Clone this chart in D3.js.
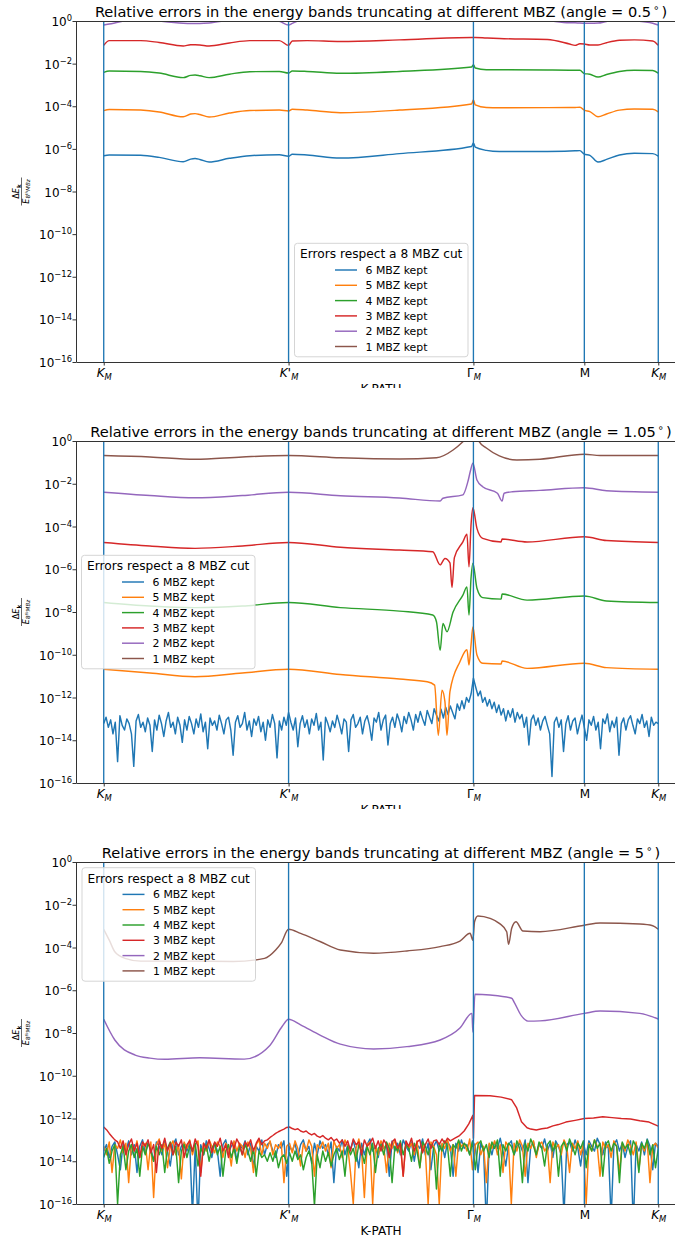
<!DOCTYPE html>
<html>
<head>
<meta charset="utf-8">
<script src="https://cdn.jsdelivr.net/npm/d3@7"></script>
<style>
  body { margin: 0; background: #fff; }
  svg { display: block; font-family: "DejaVu Sans", sans-serif; }
</style>
</head>
<body>
<div class="chart"></div>
<script>
// ---- shared axis stuff ----
const kTicks = [0, 1, 2, 2.6, 3];
const kTickLabels = [["K", "", "M"], ["K", "'", "M"], ["Γ", "", "M"], ["M", "", ""], ["K", "", "M"]];
const yTicks = [1, 1e-2, 1e-4, 1e-6, 1e-8, 1e-10, 1e-12, 1e-14, 1e-16];
const yTickExp = ["0", "−2", "−4", "−6", "−8", "−10", "−12", "−14", "−16"];
const seriesNames = ["6 MBZ kept", "5 MBZ kept", "4 MBZ kept", "3 MBZ kept", "2 MBZ kept", "1 MBZ kept"];
const colors = ["#1f77b4", "#ff7f0e", "#2ca02c", "#d62728", "#9467bd", "#8c564b"];
const angles = ["0.5", "1.05", "5"];

// ---- panel 1 (angle 0.5) : one k grid, six series ----
const p1K = [0, 0.03, 0.2, 0.3, 0.43, 0.47, 0.494, 0.52, 0.57, 0.68, 0.79, 0.95, 1.0, 1.02, 1.1, 1.28, 1.6,
  1.99, 2.0, 2.01, 2.07, 2.14, 2.4, 2.52, 2.55, 2.576, 2.6, 2.63, 2.674, 2.72, 2.79, 2.87, 2.97, 3.0];
const p1Six = [4.8e-7, 5.2e-7, 5.0e-7, 4.0e-7, 2.5e-7, 3.3e-7, 3.5e-7, 3.2e-7, 2.4e-7, 3.6e-7, 4.8e-7, 5.3e-7,
  4.5e-7, 5.6e-7, 5.2e-7, 3.7e-7, 6.0e-7, 1.3e-6, 1.9e-6, 1.2e-6, 8.5e-7, 7.5e-7, 7.6e-7, 7.9e-7, 8.1e-7,
  8.3e-7, 5.7e-7, 5.0e-7, 2.4e-7, 3.2e-7, 5.2e-7, 6.2e-7, 6.0e-7, 4.6e-7];
const p1Five = [6.2e-5, 7.1e-5, 6.6e-5, 5.4e-5, 3.2e-5, 4.3e-5, 4.5e-5, 4.1e-5, 3.1e-5, 4.8e-5, 6.3e-5, 6.6e-5,
  6.0e-5, 7.2e-5, 6.6e-5, 5.0e-5, 6.6e-5, 1.28e-4, 1.95e-4, 1.15e-4, 8.7e-5, 8.5e-5, 8.6e-5, 8.7e-5, 8.8e-5,
  8.9e-5, 6.6e-5, 5.6e-5, 3.2e-5, 4.3e-5, 6.6e-5, 7.4e-5, 7.2e-5, 5.5e-5];
const p1Four = [3.9e-3, 4.5e-3, 4.3e-3, 3.6e-3, 2.2e-3, 2.8e-3, 2.9e-3, 2.7e-3, 2.2e-3, 3.2e-3, 4.2e-3, 4.3e-3,
  3.6e-3, 4.5e-3, 4.3e-3, 3.5e-3, 4.3e-3, 6.9e-3, 8.9e-3, 6.2e-3, 5.2e-3, 5.2e-3, 5.0e-3, 4.9e-3, 4.9e-3,
  4.9e-3, 3.4e-3, 3.2e-3, 2.35e-3, 3.1e-3, 4.3e-3, 4.9e-3, 4.8e-3, 3.6e-3];
const p1Three = [0.072, 0.12, 0.12, 0.098, 0.067, 0.077, 0.077, 0.075, 0.067, 0.093, 0.12, 0.12, 0.072, 0.115,
  0.12, 0.11, 0.13, 0.17, 0.17, 0.17, 0.16, 0.15, 0.135, 0.083, 0.072, 0.086, 0.083, 0.075, 0.075, 0.096,
  0.124, 0.13, 0.115, 0.072];
const p1Two = [0.65, 0.72, 1.3, 1.0, 0.78, 0.76, 0.76, 0.76, 0.8, 1.1, 1.4, 0.98, 0.65, 0.78, 1.3, 1.6, 1.8,
  2.0, 2.0, 2.0, 1.8, 1.6, 1.05, 0.83, 0.82, 0.8, 0.79, 0.78, 0.8, 0.95, 1.1, 1.02, 0.78, 0.65];
const p1One = [2.6, 3.2, 3.4, 3.2, 2.8, 2.9, 2.9, 2.9, 2.8, 3.1, 3.4, 3.3, 2.6, 3.1, 3.4, 3.6, 3.9, 4.2, 4.4,
  4.2, 4.0, 3.8, 3.4, 3.0, 2.9, 3.0, 2.9, 2.9, 2.8, 3.1, 3.3, 3.2, 3.0, 2.6];

// ---- panel 2 (angle 1.05) ----
// 6 MBZ: numerical noise, evenly sampled along the path
const p2Six = [
  6e-14, 1.2e-13, 4e-14, 9e-14, 2e-14, 7e-14, 1e-15, 1.4e-13, 5e-14, 3e-14,
  1e-13, 6e-14, 2e-14, 6e-16, 8e-14, 1.6e-13, 4e-14, 7e-14, 2.5e-14, 1.1e-13,
  5e-14, 3e-15, 9e-14, 3e-14, 1.5e-13, 6e-14, 1.5e-14, 8e-14, 2e-13, 4e-14,
  7e-14, 2e-14, 1.2e-13, 5e-14, 8e-15, 9e-14, 3e-14, 1.3e-13, 6e-14, 2e-14,
  1e-13, 4e-14, 1.7e-13, 2.5e-14, 7e-14, 4e-15, 1.1e-13, 5e-14, 8e-14, 3e-14,
  1.5e-13, 6e-14, 2e-14, 9e-14, 1.2e-13, 3e-14, 2e-15, 7e-14, 1.4e-13, 4e-14,
  6e-14, 2e-13, 3e-14, 8e-14, 1.5e-14, 1e-13, 5e-14, 1.3e-13, 2.5e-14, 7e-14,
  1e-14, 9e-14, 4e-14, 1.6e-13, 6e-14, 1.5e-15, 8e-14, 3e-14, 1.2e-13, 5e-14,
  2e-13, 7e-14, 3e-14, 1.1e-13, 5e-15, 6e-14, 1.4e-13, 4e-14, 9e-14, 2e-14,
  1e-13, 5e-14, 1.8e-13, 3e-14, 7e-14, 1.2e-15, 1.2e-13, 6e-14, 2.5e-14, 8e-14,
  4e-14, 1.5e-13, 6e-14, 2e-14, 1e-13, 7e-14, 3e-15, 9e-14, 1.6e-13, 4e-14,
  6e-14, 1.2e-13, 2e-14, 8e-14, 1.4e-13, 5e-14, 1e-14, 1.1e-13, 7e-14, 2e-13,
  3e-14, 9e-14, 1.5e-13, 6e-15, 6e-14, 1.2e-13, 4e-14, 1.7e-13, 8e-14, 2.5e-14,
  1.3e-13, 6e-14, 2e-13, 9e-14, 3e-14, 1.6e-13, 7e-14, 2.2e-13, 1e-13, 5e-14,
  2.5e-13, 1.2e-13, 6e-14, 3e-13, 1.5e-13, 8e-14, 2.8e-13, 1.1e-13, 3.5e-13, 1.6e-13,
  4e-13, 2e-13, 1e-13, 5e-13, 2.5e-13, 7e-13, 3e-13, 1e-12, 6e-13, 1.5e-12,
  8e-12, 3e-12, 1.2e-12, 2e-12, 6e-13, 1e-12, 4e-13, 8e-13, 3e-13, 6e-13,
  2e-13, 4.5e-13, 1.5e-13, 3e-13, 8e-14, 2.5e-13, 1.2e-13, 3e-13, 7e-14, 2e-13,
  1e-13, 1.6e-13, 4e-14, 1.2e-13, 6e-15, 9e-14, 1.5e-13, 5e-14, 1.1e-13, 3e-14,
  8e-14, 1.3e-13, 5e-14, 2e-14, 2e-16, 7e-14, 1.2e-13, 4e-14, 9e-14, 3e-15,
  6e-14, 1.4e-13, 3e-14, 8e-14, 1.1e-13, 2e-14, 6e-14, 1.5e-13, 4e-14, 1e-14,
  9e-14, 5e-14, 1.3e-13, 3e-14, 7e-14, 4e-15, 1e-13, 6e-14, 1.7e-13, 2.5e-14,
  8e-14, 4e-14, 1.2e-13, 2e-15, 6e-14, 1.1e-13, 3e-14, 9e-14, 1.4e-13, 5e-14,
  2e-14, 1e-13, 6e-14, 1.6e-13, 4e-14, 8e-14, 1.5e-14, 1.2e-13, 5e-14, 7e-14,
  6e-14];
// [k, value]
const p2Five = [[0, 2.1e-11], [0.25, 1.4e-11], [0.494, 9.3e-12], [0.75, 1.4e-11], [1, 2.1e-11], [1.28, 1.2e-11],
  [1.6, 7.3e-12], [1.75, 5.5e-12], [1.79, 3.8e-12], [1.81, 1.7e-14], [1.83, 2.2e-12], [1.846, 6.3e-13],
  [1.857, 1.7e-14], [1.873, 1.9e-12], [1.927, 4.7e-11], [1.965, 1.7e-10], [1.976, 3.3e-11], [1.987, 2.8e-10],
  [1.997, 2.0e-9], [2.019, 9.8e-11], [2.05, 4.0e-11], [2.15, 3.7e-11], [2.155, 5.1e-11], [2.29, 2.3e-11],
  [2.6, 4.0e-11], [2.72, 2.5e-11], [3, 2.1e-11]];
const p2Four = [[0, 2.8e-8], [0.25, 1.9e-8], [0.494, 1.6e-8], [0.75, 1.9e-8], [1, 2.8e-8], [1.28, 1.6e-8],
  [1.6, 1.1e-8], [1.78, 7.2e-9], [1.8, 3.5e-9], [1.82, 1.6e-10], [1.835, 2.9e-9], [1.857, 1.2e-9],
  [1.89, 1.0e-8], [1.943, 6.2e-8], [1.965, 1.5e-7], [1.976, 7.2e-9], [1.987, 3.8e-7], [1.997, 1.9e-6],
  [2.019, 1.3e-7], [2.05, 4.7e-8], [2.15, 4.0e-8], [2.155, 6.9e-8], [2.29, 3.6e-8], [2.6, 5.6e-8],
  [2.72, 3.3e-8], [3, 2.8e-8]];
const p2Three = [[0, 1.8e-5], [0.25, 1.23e-5], [0.494, 9.5e-6], [0.75, 1.23e-5], [1, 1.8e-5], [1.28, 1.07e-5],
  [1.6, 7.9e-6], [1.78, 6.6e-6], [1.82, 1.6e-6], [1.846, 3.2e-6], [1.873, 2.0e-6], [1.884, 1.4e-7],
  [1.897, 3.5e-6], [1.943, 1.9e-5], [1.965, 4.3e-5], [1.976, 1.3e-6], [1.987, 1.17e-4], [1.997, 7.6e-4],
  [2.019, 8.2e-5], [2.05, 2.8e-5], [2.15, 1.9e-5], [2.155, 2.6e-5], [2.29, 1.9e-5], [2.6, 3.3e-5],
  [2.72, 2.2e-5], [3, 1.8e-5]];
const p2Two = [[0, 4.0e-3], [0.25, 2.8e-3], [0.494, 2.2e-3], [0.75, 2.8e-3], [1, 4.0e-3], [1.28, 2.75e-3],
  [1.6, 2.15e-3], [1.82, 1.55e-3], [1.835, 2.1e-3], [1.943, 3.0e-3], [1.97, 1.25e-2], [1.985, 4.4e-2],
  [1.997, 9.1e-2], [2.019, 1.5e-2], [2.05, 7.3e-3], [2.13, 3.6e-3], [2.155, 1.55e-3], [2.166, 3.6e-3],
  [2.21, 4.2e-3], [2.36, 4.9e-3], [2.6, 6.5e-3], [2.72, 4.7e-3], [3, 4.0e-3]];
const p2One = [[0, 0.21], [0.25, 0.18], [0.494, 0.14], [0.75, 0.18], [1, 0.21], [1.28, 0.165], [1.6, 0.145],
  [1.8, 0.165], [1.89, 0.38], [1.943, 0.93], [1.97, 1.6], [2.0, 3], [2.02, 1.6], [2.03, 0.95], [2.07, 0.47],
  [2.14, 0.2], [2.235, 0.13], [2.36, 0.14], [2.6, 0.24], [2.685, 0.21], [3, 0.21]];

// ---- panel 3 (angle 5) ----
const p3Six = [
  3e-14, 6e-14, 1.5e-14, 5e-14, 8e-14, 2e-14, 4e-15, 7e-14, 3e-14, 9e-14,
  2e-14, 6e-14, 3e-15, 5e-14, 1e-13, 2.5e-14, 7e-14, 4e-14, 1e-14, 8e-14,
  5e-14, 2e-14, 9e-14, 3e-14, 6e-15, 6e-14, 1.1e-13, 2e-14, 5e-14, 7e-14,
  3e-14, 8e-14, 3e-17, 5e-14, 1e-17, 6e-14, 2e-14, 9e-14, 4e-14, 1.5e-14,
  7e-14, 3e-14, 2e-15, 6e-14, 1e-13, 2.5e-14, 5e-14, 8e-14, 1e-14, 6e-14,
  4e-14, 9e-14, 2e-14, 7e-14, 5e-15, 5e-14, 3e-14, 1e-13, 2e-14, 6e-14,
  8e-14, 3e-14, 1.5e-14, 6e-14, 4e-14, 9e-14, 2e-15, 5e-14, 3e-14, 7e-14,
  1.5e-14, 6e-14, 1e-13, 3e-14, 5e-14, 8e-15, 7e-14, 2e-14, 9e-14, 4e-14,
  6e-14, 2e-14, 8e-14, 1e-15, 5e-14, 3e-14, 1e-13, 2e-14, 6e-14, 4e-14,
  9e-14, 3e-14, 5e-15, 7e-14, 2e-14, 6e-14, 1.1e-13, 3e-14, 5e-14, 1.5e-14,
  8e-14, 4e-14, 6e-14, 2e-15, 9e-14, 3e-14, 7e-14, 2e-14, 1e-13, 5e-14,
  3e-14, 8e-14, 1e-14, 6e-14, 4e-14, 1.1e-13, 2e-14, 7e-14, 4e-15, 5e-14,
  9e-14, 3e-14, 6e-14, 1.5e-14, 8e-14, 5e-14, 2e-15, 7e-14, 3e-14, 1e-13,
  4e-14, 6e-14, 2e-14, 9e-14, 5e-14, 3e-15, 7e-14, 3e-14, 1e-17, 6e-14,
  2e-14, 8e-14, 4e-14, 1.2e-13, 3e-14, 6e-15, 6e-14, 9e-14, 2e-14, 5e-14,
  7e-14, 3e-14, 1e-13, 1e-15, 5e-14, 8e-14, 2e-14, 6e-14, 4e-14, 1.1e-13,
  3e-14, 7e-14, 1.5e-14, 9e-14, 5e-14, 2e-14, 3e-17, 6e-14, 8e-14, 3e-14,
  1e-13, 4e-14, 6e-15, 7e-14, 2e-14, 9e-14, 5e-14, 3e-14, 1.2e-13, 6e-14,
  2e-14, 8e-14, 4e-14, 2e-17, 6e-14, 1e-13, 3e-14, 7e-14, 1.5e-14, 5e-14,
  9e-14, 1e-17, 6e-14, 3e-14, 8e-14, 2e-14, 1.1e-13, 5e-14, 4e-15, 7e-14,
  5e-14];
const p3Five = [
  5e-14, 2e-14, 8e-14, 3e-15, 6e-14, 4e-14, 1e-13, 2.5e-14, 7e-14, 1e-15,
  6e-14, 3e-14, 9e-14, 1.5e-14, 5e-14, 7e-14, 4e-15, 8e-14, 2e-16, 6e-14,
  1.1e-13, 3e-14, 7e-14, 5e-15, 5e-14, 9e-14, 2e-14, 6e-14, 1.5e-15, 8e-14,
  4e-14, 1e-13, 2e-14, 6e-14, 9e-14, 3e-15, 7e-14, 3e-14, 1e-13, 5e-14,
  2.5e-14, 8e-14, 5e-14, 1.5e-14, 7e-14, 4e-14, 6e-15, 9e-14, 3e-14, 7e-14,
  5e-14, 1.5e-14, 8e-14, 4e-14, 3e-15, 6e-14, 1e-13, 2e-14, 7e-14, 4e-14,
  9e-14, 2e-14, 6e-14, 4e-14, 8e-14, 1e-15, 5e-14, 7e-14, 2.5e-14, 9e-14,
  4e-14, 6e-15, 7e-14, 3e-14, 1e-13, 5e-14, 2e-15, 6e-14, 4e-14, 8e-14,
  3e-14, 7e-14, 5e-15, 9e-14, 4e-14, 6e-14, 1.5e-14, 1e-13, 5e-14, 3e-15,
  1e-16, 4e-14, 1.1e-13, 3e-14, 2e-16, 6e-14, 8e-14, 1e-16, 5e-14, 2e-14,
  9e-14, 5e-14, 3e-15, 7e-14, 4e-14, 1e-13, 2.5e-14, 6e-14, 2e-15, 8e-14,
  4e-14, 7e-14, 2e-14, 9e-14, 5e-15, 6e-14, 3e-14, 1e-16, 8e-14, 5e-14,
  2e-14, 1e-16, 7e-14, 4e-14, 1e-13, 3e-14, 6e-14, 2e-15, 9e-14, 5e-14,
  7e-14, 3e-14, 1.1e-13, 4e-15, 6e-14, 8e-14, 2e-14, 5e-14, 1e-15, 7e-14,
  4e-14, 9e-14, 2e-14, 6e-14, 3e-15, 8e-14, 5e-14, 1e-16, 7e-14, 3e-14,
  1e-13, 5e-14, 2e-15, 7e-14, 4e-14, 9e-14, 1.5e-14, 6e-14, 8e-14, 3e-14,
  5e-14, 1e-15, 8e-14, 4e-14, 6e-14, 2e-14, 1e-13, 5e-14, 3e-15, 7e-14,
  4e-14, 9e-14, 2e-14, 6e-14, 1e-16, 7e-14, 3e-14, 1e-13, 5e-14, 2e-15,
  8e-14, 4e-14, 6e-14, 1.5e-14, 9e-14, 5e-14, 3e-15, 7e-14, 3e-14, 1e-13,
  5e-14, 2e-14, 8e-14, 4e-15, 6e-14, 3e-14, 9e-14, 1e-15, 5e-14, 7e-14,
  4e-14];
const p3Four = [
  1.5e-14, 4e-14, 8e-15, 3e-14, 6e-14, 1e-16, 2e-14, 5e-14, 4e-15, 3e-14,
  6e-14, 1.5e-14, 4e-14, 2e-15, 5e-14, 2e-14, 7e-14, 3e-14, 1e-14, 5e-14,
  2e-14, 6e-14, 3e-15, 4e-14, 8e-14, 2e-14, 5e-14, 1e-15, 3e-14, 6e-14,
  1.5e-14, 5e-14, 3e-14, 7e-14, 6e-15, 4e-14, 2e-14, 6e-14, 1e-14, 4e-14,
  7e-14, 2e-14, 5e-14, 2e-15, 3e-14, 6e-14, 1.5e-14, 4e-14, 8e-15, 5e-14,
  2e-14, 6e-14, 3e-14, 1e-14, 4e-14, 2e-15, 3e-14, 1.5e-14, 2e-14, 1e-14,
  2.5e-14, 1e-14, 3e-14, 5e-15, 1.5e-14, 2e-14, 8e-15, 2.5e-14, 1e-14, 3e-14,
  1.2e-14, 2e-14, 4e-15, 1.5e-14, 3e-14, 1e-14, 8e-17, 2e-14, 5e-15, 3e-14,
  1e-14, 2.5e-14, 6e-15, 2e-14, 4e-14, 1.2e-14, 3e-14, 2e-15, 5e-14, 2e-14,
  4e-14, 1e-14, 6e-14, 3e-14, 8e-15, 5e-14, 2e-14, 7e-14, 3e-15, 4e-14,
  6e-14, 2e-14, 8e-14, 4e-14, 1e-15, 5e-14, 3e-14, 9e-14, 2e-14, 6e-14,
  4e-14, 1e-14, 7e-14, 3e-14, 5e-15, 8e-14, 5e-14, 2e-14, 6e-14, 4e-14,
  5e-16, 7e-14, 3e-14, 9e-14, 5e-14, 2e-15, 6e-14, 4e-14, 1e-13, 3e-14,
  7e-14, 5e-14, 2e-14, 8e-14, 4e-15, 6e-14, 9e-14, 3e-14, 6e-14, 1.5e-14,
  8e-14, 4e-14, 1e-13, 2e-15, 6e-14, 3e-14, 7e-14, 5e-14, 2e-14, 9e-14,
  4e-14, 1e-15, 7e-14, 3e-14, 1.1e-13, 5e-14, 2e-14, 8e-14, 4e-14, 6e-15,
  6e-14, 9e-14, 3e-14, 7e-14, 2e-15, 5e-14, 8e-14, 3e-14, 1.1e-13, 5e-14,
  2e-14, 7e-14, 4e-14, 9e-14, 5e-15, 6e-14, 3e-14, 1e-13, 4e-14, 7e-14,
  2e-15, 6e-14, 9e-14, 3e-14, 7e-14, 5e-14, 1e-15, 8e-14, 4e-14, 6e-14,
  2e-14, 9e-14, 5e-14, 3e-15, 7e-14, 4e-14, 1e-13, 2e-14, 6e-14, 5e-15,
  4e-14];
// 3 MBZ: noisy on the same grid up to just before Gamma, then the smoother tail
const p3ThreeNoise = [
  4e-13, 3e-13, 2e-13, 1.4e-13, 1e-13, 8e-14, 4e-14, 9e-14, 2e-14, 6e-14,
  1.1e-13, 3e-14, 7e-14, 1.5e-14, 8e-14, 5e-14, 1e-13, 2.5e-14, 6e-14, 3e-15,
  9e-14, 4e-14, 1.2e-13, 3e-14, 7e-14, 2e-14, 8e-14, 5e-14, 1e-13, 1.5e-14,
  6e-14, 9e-14, 3e-14, 1.1e-13, 5e-14, 2e-15, 7e-14, 4e-14, 1e-13, 2.5e-14,
  8e-14, 5e-14, 1.2e-13, 3e-14, 6e-14, 1.5e-14, 9e-14, 4e-14, 1.1e-13, 6e-14,
  2e-14, 8e-14, 5e-14, 1e-13, 3e-14, 7e-14, 1.2e-13, 6e-14, 9e-14, 1e-13,
  1.3e-13, 1.6e-13, 2e-13, 2.4e-13, 2.8e-13, 3.2e-13, 3.8e-13, 4e-13, 3.4e-13, 3e-13,
  3.3e-13, 2.6e-13, 2.3e-13, 2.6e-13, 2e-13, 1.7e-13, 2e-13, 1.5e-13, 1.3e-13, 1.6e-13,
  1.2e-13, 1e-13, 1.3e-13, 9e-14, 1.1e-13, 7e-14, 1e-13, 5e-14, 9e-14, 3e-14,
  1.1e-13, 6e-14, 8e-14, 2e-14, 1e-13, 5e-14, 7e-14, 1.2e-13, 4e-14, 9e-14,
  3e-14, 1e-13, 6e-14, 1.5e-14, 8e-14, 1.1e-13, 4e-14, 7e-14, 2e-15, 9e-14,
  5e-14, 1.2e-13, 3e-14, 8e-14, 1e-13, 2.5e-14, 6e-14, 1.1e-13, 4e-14, 9e-14,
  1e-13, 6e-14, 1.1e-13, 7e-14, 1.2e-13, 9e-14];
const p3ThreeTail = [[1.9, 1.2e-13], [1.925, 1.6e-13], [1.95, 2.6e-13], [1.975, 5.6e-13], [1.997, 1.4e-12],
  [2.0, 1.2e-13], [2.006, 1.2e-11], [2.09, 1.15e-11], [2.15, 1.0e-11], [2.207, 7.5e-12], [2.234, 3.1e-12],
  [2.26, 7e-13], [2.29, 3.7e-13], [2.31, 3.2e-13], [2.34, 2.9e-13], [2.37, 3.3e-13], [2.4, 3.6e-13],
  [2.43, 4.5e-13], [2.46, 5.2e-13], [2.5, 6.8e-13], [2.55, 8.2e-13], [2.6, 1.0e-12], [2.65, 1.05e-12],
  [2.7, 1.2e-12], [2.75, 1.1e-12], [2.8, 1.0e-12], [2.85, 9.5e-13], [2.9, 7.8e-13], [2.95, 6.8e-13],
  [3.0, 4.4e-13]];
const p3Two = [[0, 4.4e-8], [0.06, 4.7e-9], [0.17, 9.3e-10], [0.25, 6.7e-10], [0.33, 5.9e-10], [0.52, 6.9e-10],
  [0.76, 6.0e-10], [0.9, 2.7e-9], [0.965, 2.0e-8], [1, 4.4e-8], [1.065, 2.4e-8], [1.17, 8e-9], [1.28, 3e-9],
  [1.46, 1.8e-9], [1.64, 2.3e-9], [1.82, 4.7e-9], [1.927, 1.7e-8], [1.992, 8.3e-8], [1.997, 1.1e-8],
  [2.008, 6.5e-7], [2.09, 6.0e-7], [2.207, 4.2e-7], [2.22, 2.8e-7], [2.26, 6.3e-8], [2.295, 3.6e-8],
  [2.36, 3.7e-8], [2.6, 8.3e-8], [2.685, 1.07e-7], [2.9, 8.3e-8], [3, 4.5e-8]];
const p3One = [[0, 7.1e-4], [0.03, 2.2e-4], [0.06, 6.3e-5], [0.115, 3.1e-5], [0.2, 2.3e-5], [0.45, 2.3e-5],
  [0.7, 2.2e-5], [0.87, 3.1e-5], [0.93, 7.6e-5], [0.96, 1.6e-4], [1, 7.1e-4], [1.065, 4.6e-4], [1.17, 1.9e-4],
  [1.28, 7.6e-5], [1.46, 5.4e-5], [1.64, 6.9e-5], [1.82, 1.1e-4], [1.927, 2.0e-4], [1.982, 4.6e-4],
  [1.997, 2.2e-4], [2.006, 1.6e-3], [2.024, 3.0e-3], [2.09, 2.3e-3], [2.14, 1.35e-3], [2.18, 5.5e-4],
  [2.19, 1.4e-4], [2.207, 7.9e-4], [2.23, 1.6e-3], [2.268, 5.9e-4], [2.36, 5.5e-4], [2.6, 1.1e-3],
  [2.685, 1.4e-3], [2.9, 1.25e-3], [2.97, 1.05e-3], [3, 7.1e-4]];

// ------------------------------------------------------------
const width = 675, height = 1239;
const svg = d3.select(".chart").append("svg")
  .attr("width", width)
  .attr("height", height);
const defs = svg.append("defs");

const pairs = (ks, vs) => vs.map((v, i) => [ks[i], v]);
// noisy series are sampled evenly along the path: index -> k
const k2 = d3.scaleLinear().domain([0, p2Six.length - 1]).range([0, 3]);
const k3 = d3.scaleLinear().domain([0, p3Six.length - 1]).range([0, 3]);
const onGrid = (sc, vs) => vs.map((v, i) => [sc(i), v]);

const panels = [
  {top: 21, bottom: 362, clip: [0, 388], legend: [294.5, 243.3],
   series: [pairs(p1K, p1Six), pairs(p1K, p1Five), pairs(p1K, p1Four), pairs(p1K, p1Three), pairs(p1K, p1Two), pairs(p1K, p1One)],
   noisy: [false, false, false, false, false, false]},
  {top: 441, bottom: 783, clip: [388, 809], legend: [81.5, 555.3],
   series: [onGrid(k2, p2Six), p2Five, p2Four, p2Three, p2Two, p2One],
   noisy: [true, false, false, false, false, false]},
  {top: 862, bottom: 1204, clip: [809, 1239], legend: [82, 867.7],
   series: [onGrid(k3, p3Six), onGrid(k3, p3Five), onGrid(k3, p3Four), onGrid(k3, p3ThreeNoise).concat(p3ThreeTail), p3Two, p3One],
   noisy: [true, true, true, true, false, false]}
];

const x = d3.scaleLinear().domain([-0.15, 3.15]).range([76, 686]);

panels.forEach((p, pi) => {
  const y = d3.scaleLog().domain([1e-16, 1]).range([p.bottom, p.top]);

  defs.append("clipPath").attr("id", "panel" + pi)
    .append("rect").attr("x", 0).attr("y", p.clip[0]).attr("width", width).attr("height", p.clip[1] - p.clip[0]);
  defs.append("clipPath").attr("id", "plot" + pi)
    .append("rect").attr("x", 76).attr("y", p.top).attr("width", 610).attr("height", p.bottom - p.top);

  const g = svg.append("g").attr("clip-path", `url(#panel${pi})`);
  const plot = g.append("g").attr("clip-path", `url(#plot${pi})`);

  p.series.forEach((s, si) => {
    const line = d3.line()
      .x(d => x(d[0]))
      .y(d => y(d[1]))
      .curve(p.noisy[si] ? d3.curveLinear : d3.curveMonotoneX);
    plot.append("path")
      .datum(s)
      .attr("fill", "none")
      .attr("stroke", colors[si])
      .attr("stroke-width", 1.45)
      .attr("stroke-linejoin", "round")
      .attr("d", line);
  });

  // high symmetry points
  plot.selectAll(".kline")
    .data(kTicks)
    .enter().append("line")
    .attr("class", "kline")
    .attr("x1", d => x(d)).attr("x2", d => x(d))
    .attr("y1", p.top).attr("y2", p.bottom)
    .attr("stroke", "#1f77b4")
    .attr("stroke-width", 1.35);

  // axes
  const yAxis = d3.axisLeft(y).tickValues(yTicks).tickSize(3.5).tickSizeOuter(0).tickPadding(0.5).tickFormat(() => "");
  const ya = g.append("g").attr("transform", "translate(76,0)").call(yAxis)
    .attr("font-family", null).attr("font-size", 12);
  ya.select(".domain").attr("stroke", "#333");
  ya.selectAll(".tick line").attr("stroke", "#333");
  ya.selectAll(".tick text").each(function(d, i) {
    const t = d3.select(this).attr("dy", null).attr("y", 4.6).attr("fill", "#000");
    t.append("tspan").text("10");
    t.append("tspan").attr("dy", -4.8).attr("font-size", 8.4).text(yTickExp[i]);
  });

  const xAxis = d3.axisBottom(x).tickValues(kTicks).tickSize(3.5).tickSizeOuter(0).tickFormat(() => "");
  const xa = g.append("g").attr("transform", `translate(0,${p.bottom})`).call(xAxis)
    .attr("font-family", null).attr("font-size", 12);
  xa.select(".domain").attr("stroke", "#333");
  xa.selectAll(".tick line").attr("stroke", "#333");
  xa.selectAll(".tick text").each(function(d, i) {
    const lab = kTickLabels[i];
    const t = d3.select(this).attr("dy", null).attr("y", 15).attr("fill", "#000");
    t.append("tspan").attr("font-style", lab[0] === "K" ? "italic" : null).text(lab[0]);
    if (lab[1]) t.append("tspan").attr("font-style", "italic").attr("font-size", 13).text(lab[1]);
    if (lab[2]) t.append("tspan").attr("font-style", "italic").attr("font-size", 8.4).attr("dy", 2.6).text(lab[2]);
  });

  g.append("line")
    .attr("x1", 76).attr("x2", 686).attr("y1", p.top + 0.5).attr("y2", p.top + 0.5)
    .attr("stroke", "#333");

  // title
  const title = g.append("text")
    .attr("x", 381).attr("y", p.top - 4.5)
    .attr("text-anchor", "middle")
    .attr("font-size", 14.6)
    .text(`Relative errors in the energy bands truncating at different MBZ (angle = ${angles[pi]}`);
  title.append("tspan").attr("dx", 2).attr("dy", -5.5).attr("font-size", 10).text("∘");
  title.append("tspan").attr("dx", 2).attr("dy", 5.5).text(")");

  // x label
  g.append("text")
    .attr("x", 381).attr("y", p.bottom + 31)
    .attr("text-anchor", "middle")
    .attr("font-size", 12)
    .text("K-PATH");

  // y label, a small fraction
  const yl = g.append("g").attr("transform", `translate(21.5,${(p.top + p.bottom) / 2}) rotate(-90)`);
  const num = yl.append("text").attr("y", -2.2).attr("text-anchor", "middle").attr("font-size", 8);
  num.append("tspan").text("Δ");
  num.append("tspan").attr("font-style", "italic").text("E");
  num.append("tspan").attr("font-size", 5.6).attr("font-weight", "bold").attr("dy", 1.6).text("k");
  yl.append("line").attr("x1", -14).attr("x2", 14).attr("stroke", "#000").attr("stroke-width", 0.6);
  const den = yl.append("text").attr("y", 7.2).attr("text-anchor", "middle").attr("font-size", 8);
  den.append("tspan").attr("font-style", "italic").text("E");
  den.append("tspan").attr("font-size", 5.6).attr("dy", 1.6).text("8");
  den.append("tspan").attr("font-size", 4).attr("font-style", "italic").attr("dy", -2.6).text("th");
  den.append("tspan").attr("font-size", 5.6).attr("font-style", "italic").attr("dy", 2.6).text("MBz");

  // legend
  const lg = g.append("g").attr("transform", `translate(${p.legend[0]},${p.legend[1]})`);
  lg.append("rect")
    .attr("width", 173.5).attr("height", 113.5).attr("rx", 3)
    .attr("fill", "#fff").attr("fill-opacity", 0.8)
    .attr("stroke", "#d5d5d5");
  lg.append("text")
    .attr("x", 86.7).attr("y", 15)
    .attr("text-anchor", "middle")
    .attr("font-size", 12.2)
    .text("Errors respect a 8 MBZ cut");
  const items = lg.selectAll(".item").data(seriesNames).enter().append("g")
    .attr("class", "item")
    .attr("transform", (d, i) => `translate(0,${26.7 + 15.3 * i})`);
  items.append("line")
    .attr("x1", 40.5).attr("x2", 62.5)
    .attr("stroke", (d, i) => colors[i]).attr("stroke-width", 1.45);
  items.append("text")
    .attr("x", 71).attr("y", 4)
    .attr("font-size", 10.9)
    .text(d => d);
});
</script>
</body>
</html>
